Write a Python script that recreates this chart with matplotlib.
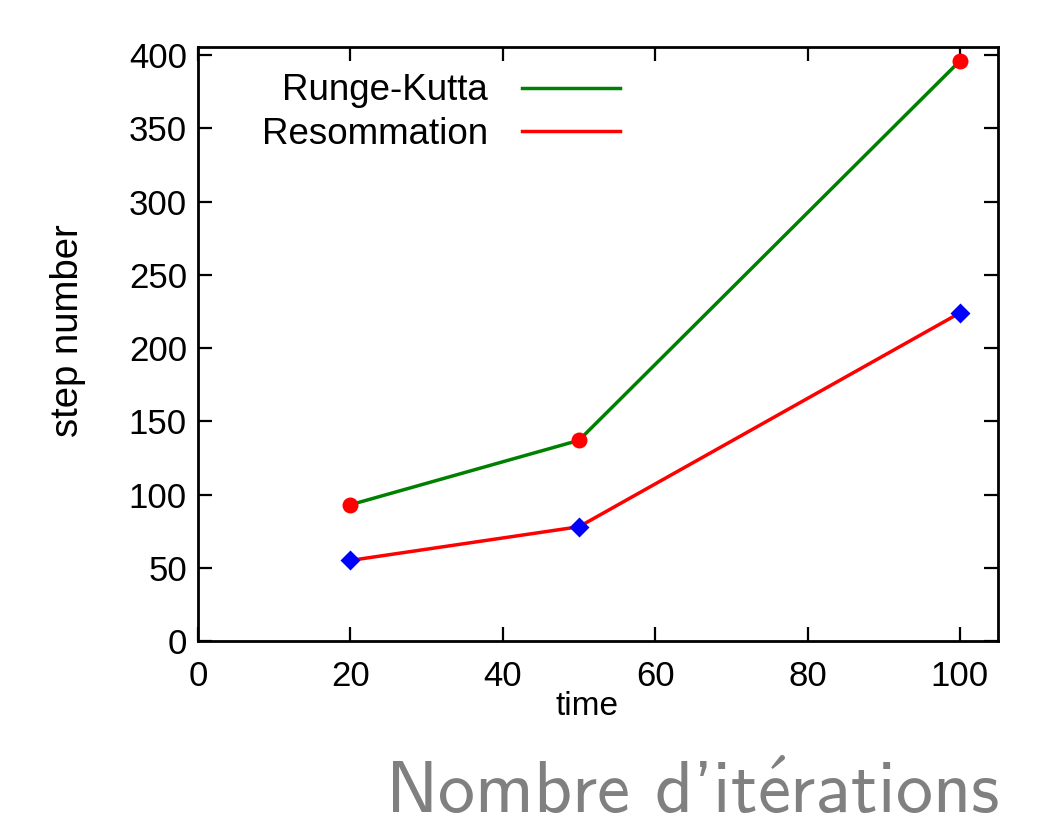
import matplotlib
matplotlib.use("Agg")
import matplotlib.pyplot as plt

time = [20, 50, 100]
runge_kutta = [93, 137, 396]
resommation = [55, 78, 224]
xticks = [0, 20, 40, 60, 80, 100]
yticks = [0, 50, 100, 150, 200, 250, 300, 350, 400]

plt.rcParams['font.family'] = ['Liberation Sans', 'DejaVu Sans']
plt.rcParams['mathtext.fontset'] = 'cm'

fig = plt.figure(figsize=(10.59, 8.18), dpi=100)
ax = fig.add_axes([198/1059, 1-641/818, 800/1059, 594/818])

ax.plot(time, runge_kutta, color='#008000', lw=2.5, label='Runge-Kutta', zorder=2)
ax.plot(time, resommation, color='#ff0000', lw=2.5, label='Resommation', zorder=2)
ax.plot(time, runge_kutta, ls='none', marker='o', ms=11.5, color='#ff0000', mec='none', zorder=3)
ax.plot(time, resommation, ls='none', marker='D', ms=10.5, color='#0000ff', mec='none', zorder=3)

ax.set_xlim(0, 105)
ax.set_ylim(0, 405.5)
ax.set_xticks(xticks)
ax.set_yticks(yticks)
ax.tick_params(direction='in', length=10, width=1.6, top=True, right=True,
               labelsize=25)
ax.tick_params(axis='x', pad=14)
ax.tick_params(axis='y', pad=8)
for s in ax.spines.values():
    s.set_linewidth(2)

ax.set_xlabel('time', fontsize=24)
ax.xaxis.set_label_coords((587-198)/800, -0.085)
ax.set_ylabel('step number', fontsize=27.5)
ax.yaxis.set_label_coords((86-198)/800, (641-331)/594)

fs_leg = 26.5
fs_px = fs_leg * 100 / 72
leg = ax.legend(loc='upper right', bbox_to_anchor=((620-198)/800, (641-73.4)/594),
                frameon=False, markerfirst=False, fontsize=fs_leg,
                handlelength=98/fs_px, handletextpad=34/fs_px,
                labelspacing=0.235, borderaxespad=0, borderpad=0)
for t in leg.get_texts():
    t.set_ha('right')
leg._legend_box.align = 'right'

fig.text(0.943, 1-812.5/818, "Nombre d'it$\\mathsf{\\acute{e}}$rations", fontsize=53.3,
         color='#808080', ha='right', va='baseline', family='cmss10')

fig.savefig('out.png', dpi=100)
